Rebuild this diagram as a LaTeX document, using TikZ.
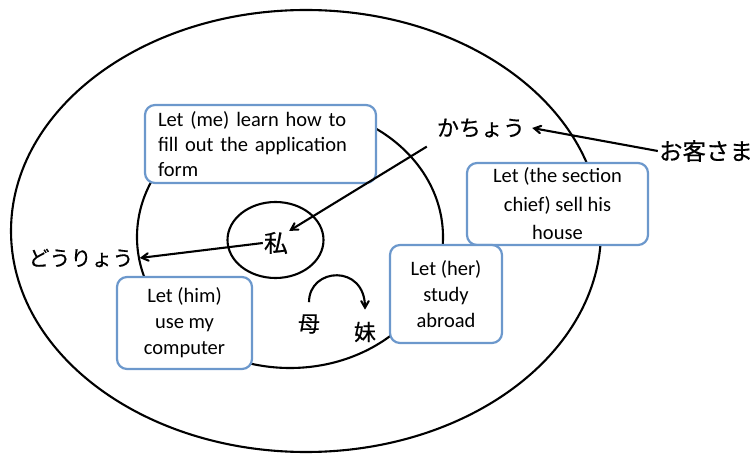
\documentclass[tikz,border=0pt]{standalone}
\usepackage{fontspec}
\setmainfont{Carlito}
\newfontfamily\jpfont[FakeBold=0.5]{Noto Sans CJK JP}
\usetikzlibrary{arrows}
\definecolor{boxblue}{RGB}{108,152,204}

\begin{document}
\begin{tikzpicture}[x=1pt, y=-1pt, >=angle 60]
\tikzset{letbox/.style={draw=boxblue, line width=2.2pt, rounded corners=10pt, fill=white, inner sep=0pt, align=center, font=\fontsize{20.5}{26}\selectfont}}
\tikzset{jp/.style={font=\jpfont\fontsize{22}{22}\selectfont, inner sep=1pt}}
\tikzset{ring/.style={line width=2.1pt}}
\useasboundingbox (0,0) rectangle (755,454);

% circles
\draw[ring] (306,231) ellipse (295pt and 221pt);
\draw[ring] (290,237) ellipse (153pt and 131pt);
\draw[ring] (275.5,240) ellipse (48pt and 38pt);

% boxes
\node[letbox, align=left, text width=205pt, minimum width=231pt, minimum height=78pt, font=\fontsize{20.5}{25}\selectfont] (learn) at (260.5,144) {Let (me) learn how to\\fill out the application\\form};
\node[letbox, minimum width=181pt, minimum height=82pt, font=\fontsize{20.5}{28.5}\selectfont] (sell) at (557.5,204) {Let (the section\\chief) sell his\\house};
\node[letbox, minimum width=112pt, minimum height=98pt] (study) at (446,294) {Let (her)\\study\\abroad};
\node[letbox, minimum width=135pt, minimum height=92pt] (use) at (184.5,323) {Let (him)\\use my\\computer};

% words
\node[jp, font=\jpfont\fontsize{24}{24}\selectfont] (watashi) at (276,243) {私};
\node[jp] (kacho) at (481,128) {かちょう};
\node[jp, font=\jpfont\fontsize{23.5}{23.5}\selectfont] (okyaku) at (706,151) {お客さま};
\node[jp, font=\jpfont\fontsize{21}{21}\selectfont] (doryo) at (81,258) {どうりょう};
\node[jp] (haha) at (309,324) {母};
\node[jp] (imouto) at (365,332) {妹};

% arrows
\draw[ring, ->] (okyaku.west) -- ([xshift=6pt]kacho.east);
\draw[ring, ->] ([xshift=-9pt,yshift=-8pt]kacho.south west) -- (watashi.north east);
\draw[ring, ->] (watashi.west) -- ([xshift=5pt]doryo.east);
\draw[ring, ->] ([yshift=11pt]haha.north) .. controls +(0,-35) and +(0,-46) .. ([yshift=11pt]imouto.north);

\end{tikzpicture}
\end{document}
